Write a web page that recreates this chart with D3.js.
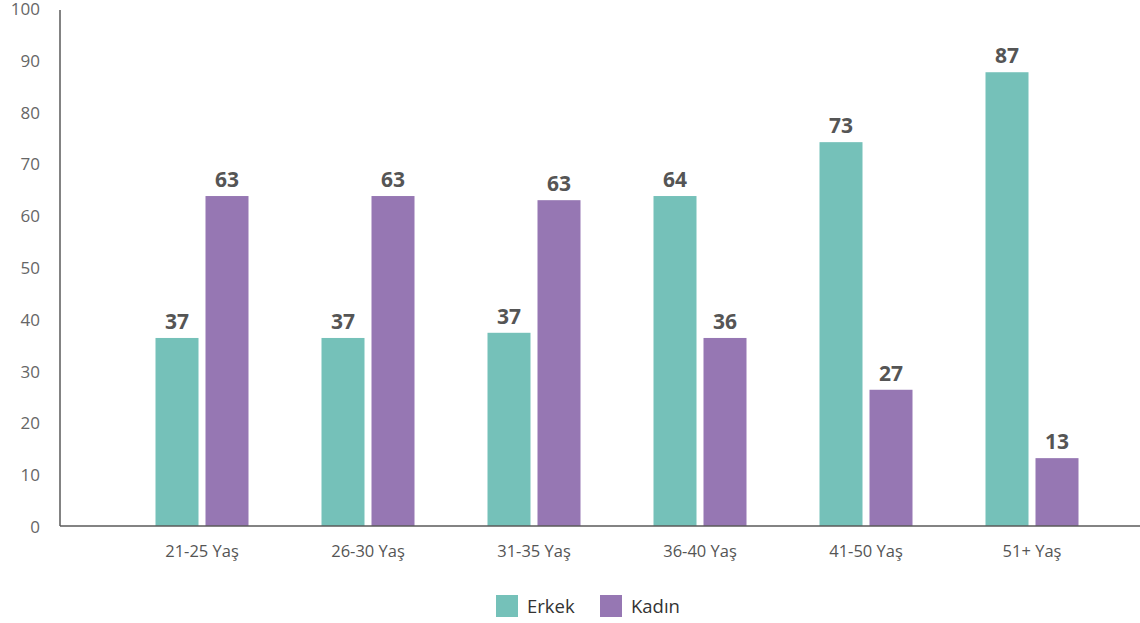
<!DOCTYPE html>
<html>
<head>
<meta charset="utf-8">
<script src="https://cdn.jsdelivr.net/npm/d3@7"></script>
<style>
  html, body { margin: 0; padding: 0; background: #fff; }
  svg { display: block; }
  text { font-family: "Open Sans", "Noto Sans", sans-serif; }
</style>
</head>
<body>
<svg id="chart" width="1140" height="623"></svg>
<script>
// ---- data ----
const categories = ["21-25 Yaş", "26-30 Yaş", "31-35 Yaş", "36-40 Yaş", "41-50 Yaş", "51+ Yaş"];
const seriesNames = ["Erkek", "Kadın"];
const erkekValues = [36.3, 36.3, 37.3, 63.7, 74.1, 87.6];
const kadinValues = [63.7, 63.7, 62.9, 36.3, 26.3, 13.1];
const erkekLabels = ["37", "37", "37", "64", "73", "87"];
const kadinLabels = ["63", "63", "63", "36", "27", "13"];
const yTicks = [0, 10, 20, 30, 40, 50, 60, 70, 80, 90, 100];
const colors = ["#75c1b9", "#9677b3"];

const svg = d3.select("#chart");

const y = d3.scaleLinear().domain([0, 100]).range([526, 8]);
const x0 = d3.scaleBand().domain(categories).range([119, 1115]).padding(0);
const x1 = d3.scaleBand().domain(seriesNames).range([-46.5, 46.5]).paddingInner(0.14);
const color = d3.scaleOrdinal().domain(seriesNames).range(colors);

const rows = categories.map((c, i) => ({
  cat: c,
  items: [
    { s: "Erkek", v: erkekValues[i], label: erkekLabels[i] },
    { s: "Kadın", v: kadinValues[i], label: kadinLabels[i] }
  ]
}));

// bars
const groups = svg.append("g").selectAll("g").data(rows).join("g")
  .attr("transform", d => `translate(${x0(d.cat) + x0.bandwidth() / 2},0)`);

groups.selectAll("rect").data(d => d.items).join("rect")
  .attr("x", d => x1(d.s))
  .attr("width", x1.bandwidth())
  .attr("y", d => y(d.v))
  .attr("height", d => y(0) - y(d.v))
  .attr("fill", d => color(d.s));

groups.selectAll("text.val").data(d => d.items).join("text")
  .attr("class", "val")
  .attr("x", d => x1(d.s) + x1.bandwidth() / 2)
  .attr("y", d => y(d.v) - 9)
  .attr("text-anchor", "middle")
  .attr("font-size", 21)
  .attr("font-weight", 700)
  .attr("fill", "#555555")
  .text(d => d.label);

// y axis
const yAxis = d3.axisLeft(y).tickValues(yTicks).tickSize(0).tickPadding(0);
const gy = svg.append("g").attr("transform", "translate(60,0)").call(yAxis);
gy.select(".domain").remove();
gy.selectAll("text")
  .attr("x", -20)
  .attr("dy", "0.38em")
  .attr("font-size", 17)
  .attr("fill", "#666666")
  .style("font-family", '"Open Sans", "Noto Sans", sans-serif');

svg.append("line")
  .attr("x1", 60).attr("x2", 60)
  .attr("y1", y(100) + 2).attr("y2", y(0))
  .attr("stroke", "#5a5a5a").attr("stroke-width", 1.5);

// x axis
const xAxis = d3.axisBottom(x0).tickSize(0).tickPadding(0);
const gx = svg.append("g").attr("transform", `translate(0,${y(0)})`).call(xAxis);
gx.select(".domain").remove();
gx.selectAll("text")
  .attr("y", 31)
  .attr("dy", 0)
  .attr("font-size", 16.5)
  .attr("fill", "#555555")
  .style("font-family", '"Open Sans", "Noto Sans", sans-serif');

svg.append("line")
  .attr("x1", 60).attr("x2", 1140)
  .attr("y1", y(0)).attr("y2", y(0))
  .attr("stroke", "#5a5a5a").attr("stroke-width", 1.5);

// legend
const legendX = d3.scaleOrdinal().domain(seriesNames).range([496, 600]);
const lg = svg.append("g").selectAll("g").data(seriesNames).join("g")
  .attr("transform", d => `translate(${legendX(d)},595)`);
lg.append("rect").attr("width", 22).attr("height", 22).attr("fill", d => color(d));
lg.append("text")
  .attr("x", 31).attr("y", 18)
  .attr("font-size", 18.5)
  .attr("fill", "#333333")
  .text(d => d);
</script>
</body>
</html>
